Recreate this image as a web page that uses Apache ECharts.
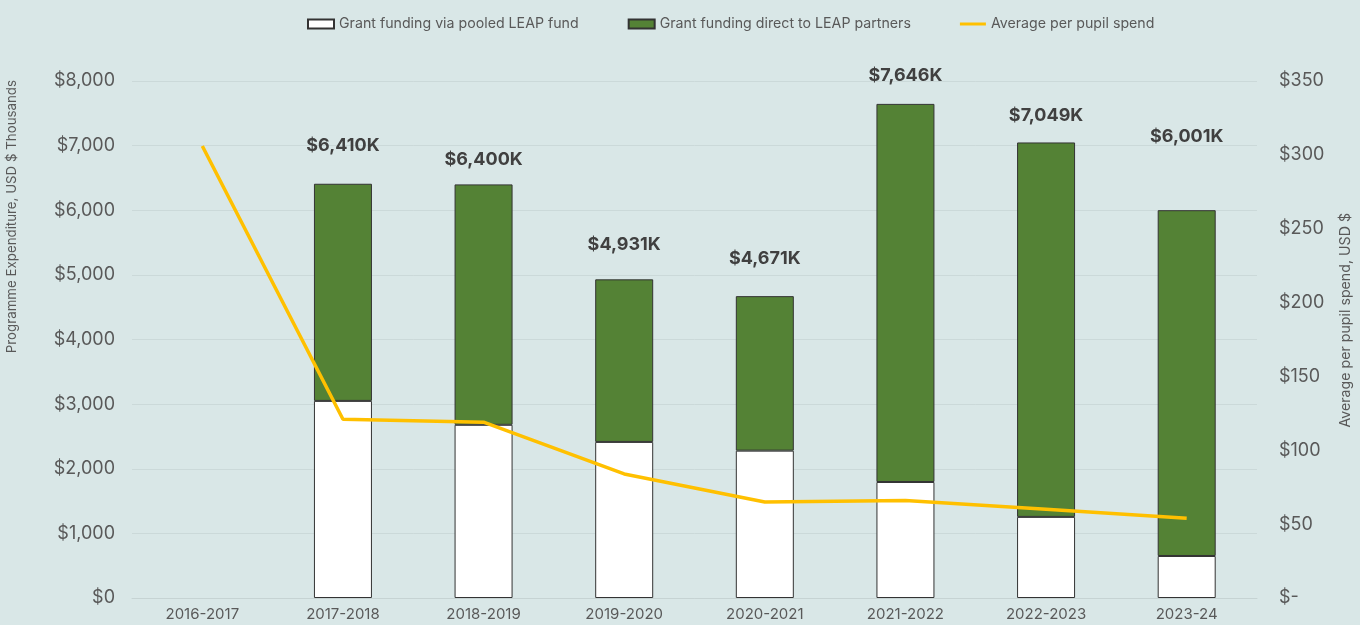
<!DOCTYPE html>
<html>
<head>
<meta charset="utf-8">
<script src="https://cdn.jsdelivr.net/npm/echarts@6/dist/echarts.min.js"></script>
<style>
html,body{margin:0;padding:0;background:#d9e7e7;}
#chart{width:1360px;height:625px;}
</style>
</head>
<body>
<div id="chart"></div>
<script>
const categories = ['2016-2017','2017-2018','2018-2019','2019-2020','2020-2021','2021-2022','2022-2023','2023-24'];
const pooledFund = [null, 3050, 2680, 2415, 2280, 1795, 1255, 650];
const totalFunding = [null, 6410, 6400, 4931, 4671, 7646, 7049, 6001];
const perPupilSpend = [306, 121, 119, 84, 65, 66, 60, 54];
const leftTicks = [0, 1000, 2000, 3000, 4000, 5000, 6000, 7000, 8000];
const rightTicks = [0, 50, 100, 150, 200, 250, 300, 350];

// layout only: gap between each total label and its bar (as placed in the original)
const labelGap = [0, 29, 16, 26, 29, 19, 18, 65];

const directFund = totalFunding.map((t, i) => t == null ? null : t - pooledFund[i]);

const FONT = 'Inter, "Noto Sans", sans-serif';
const chart = echarts.init(document.getElementById('chart'));
chart.setOption({
  backgroundColor: '#d9e7e7',
  animation: false,
  textStyle: {fontFamily: FONT},
  legend: {
    top: 12,
    left: 302,
    itemWidth: 26,
    itemHeight: 9,
    itemGap: 49,
    textStyle: {fontFamily: FONT, fontSize: 14.2, color: '#595959'},
    data: [
      {name: 'Grant funding via pooled LEAP fund', icon: 'rect'},
      {name: 'Grant funding direct to LEAP partners', icon: 'rect'},
      {name: 'Average per pupil spend', icon: 'path://M0,4 L26,4 L26,7 L0,7 Z'}
    ]
  },
  grid: {left: 132, right: 103, top: 81, bottom: 27, containLabel: false},
  xAxis: {
    type: 'category',
    data: categories,
    axisLine: {lineStyle: {color: '#c6d3d3', width: 1}},
    axisTick: {show: false},
    axisLabel: {fontFamily: FONT, fontSize: 15, color: '#595959', margin: 9}
  },
  yAxis: [
    {
      type: 'value', min: leftTicks[0], max: leftTicks[leftTicks.length-1], interval: 1000,
      axisLine: {show: false}, axisTick: {show: false},
      splitLine: {lineStyle: {color: '#cbd9d9', width: 1}},
      axisLabel: {fontFamily: FONT, fontSize: 18, color: '#595959', margin: 17,
        formatter: v => '$' + v.toLocaleString('en-US')}
    },
    {
      type: 'value', min: rightTicks[0], max: rightTicks[rightTicks.length-1], interval: 50,
      axisLine: {show: false}, axisTick: {show: false},
      splitLine: {show: false},
      axisLabel: {fontFamily: FONT, fontSize: 18, color: '#595959', margin: 22,
        formatter: v => v === 0 ? '$-' : '$' + v}
    }
  ],
  graphic: [
    {type: 'text', left: 5, top: 80, rotation: Math.PI/2,
      style: {text: 'Programme Expenditure, USD $ Thousands', font: '13.3px ' + FONT, fill: '#595959'}},
    {type: 'text', left: 1339, top: 213, rotation: Math.PI/2,
      style: {text: 'Average per pupil spend, USD $', font: '14.2px ' + FONT, fill: '#595959'}}
  ],
  series: [
    {
      name: 'Grant funding via pooled LEAP fund', type: 'bar', stack: 'f', barWidth: 58,
      data: pooledFund,
      itemStyle: {color: '#ffffff', borderColor: '#333333', borderWidth: 1}
    },
    {
      name: 'Grant funding direct to LEAP partners', type: 'bar', stack: 'f', barWidth: 58,
      data: directFund.map((v, i) => ({value: v, label: {distance: labelGap[i]}})),
      itemStyle: {color: '#548235', borderColor: '#333333', borderWidth: 1},
      label: {
        show: true, position: 'top',
        fontFamily: FONT, fontSize: 18, fontWeight: 'bold', color: '#404040',
        formatter: p => totalFunding[p.dataIndex] == null ? '' : '$' + totalFunding[p.dataIndex].toLocaleString('en-US') + 'K'
      }
    },
    {
      name: 'Average per pupil spend', type: 'line', yAxisIndex: 1,
      data: perPupilSpend, symbol: 'none',
      lineStyle: {color: '#ffc000', width: 3.5},
      itemStyle: {color: '#ffc000'}
    }
  ]
});
</script>
</body>
</html>
